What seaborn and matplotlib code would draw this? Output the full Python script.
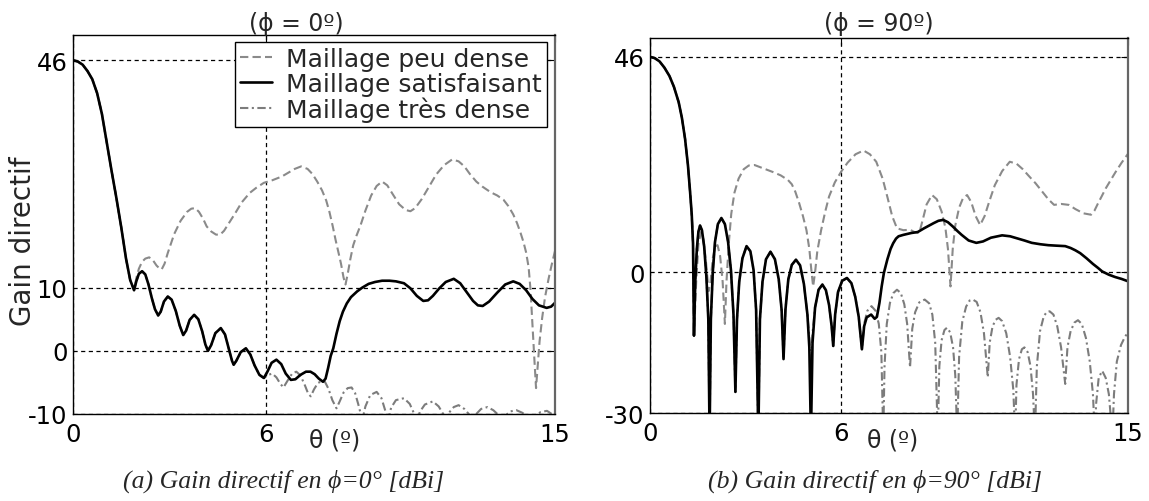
import matplotlib
matplotlib.use('Agg')
import matplotlib.pyplot as plt
import seaborn as sns

sns.set_style('white')
plt.rcParams['font.family'] = ['DejaVu Sans']
plt.rcParams['axes.unicode_minus'] = False
plt.rcParams['lines.scale_dashes'] = False

# ---------------- data ----------------
# main lobe, left panel (the three meshes coincide here)
lobe_x = [0, 0.15, 0.3, 0.45, 0.6, 0.75, 0.9, 1.05, 1.2, 1.35, 1.5, 1.65, 1.78, 1.9]
lobe_y = [46, 45.8, 45.3, 44.3, 43.0, 40.8, 37.5, 33.0, 28.5, 24.2, 19.6, 14.6, 11.2, 9.6]

# side lobes shared by "satisfaisant" and "très dense" up to theta ~ 6
a_side_x = [1.97, 2.05, 2.15, 2.25, 2.35, 2.45, 2.55, 2.65, 2.73, 2.83, 2.95, 3.07, 3.2, 3.32,
            3.43, 3.52, 3.63, 3.77, 3.9, 4.02, 4.12, 4.2, 4.3, 4.43, 4.6, 4.73, 4.85, 4.95,
            5.0, 5.08, 5.22, 5.38, 5.52, 5.65, 5.8, 5.94]
a_side_y = [11.0, 12.2, 12.6, 12.1, 10.5, 8.4, 6.6, 5.6, 6.2, 7.8, 8.6, 8.1, 6.3, 4.0,
            2.5, 3.2, 4.9, 5.7, 5.0, 3.1, 1.0, 0.0, 0.9, 2.8, 3.6, 2.6, 0.3, -1.6,
            -2.2, -1.6, -0.2, 0.4, -0.6, -2.3, -3.8, -4.3]

# (a) phi = 0
a_peu_x = lobe_x + [1.97, 2.05, 2.15, 2.25, 2.37, 2.48, 2.6, 2.7, 2.76, 2.85, 2.95, 3.05, 3.15, 3.35,
                    3.55, 3.68, 3.8, 3.92, 4.05, 4.16, 4.3, 4.45, 4.58, 4.7, 4.85, 5.05, 5.25, 5.5,
                    5.7, 5.94, 6.2, 6.5, 6.7, 6.9, 7.1, 7.3, 7.45, 7.6, 7.75, 7.88, 7.98, 8.08,
                    8.17, 8.26, 8.34, 8.42, 8.48, 8.55, 8.63, 8.72, 8.82, 8.95, 9.1, 9.28, 9.45,
                    9.62, 9.78, 9.95, 10.15, 10.35, 10.5, 10.65, 10.85, 11.07, 11.3, 11.55, 11.8,
                    12.0, 12.18, 12.35, 12.55, 12.74, 13.0, 13.2, 13.4, 13.55, 13.7, 13.82, 13.92,
                    14.02, 14.1, 14.18, 14.24, 14.3, 14.36, 14.41, 14.46, 14.52, 14.6, 14.69, 14.8,
                    14.9, 15.0]
a_peu_y = lobe_y + [11.5, 13.0, 14.1, 14.6, 14.8, 14.4, 13.5, 13.0, 12.9, 13.8, 15.5, 17.0, 18.5, 20.6,
                    22.0, 22.5, 22.6, 22.0, 20.9, 19.7, 18.9, 18.4, 18.4, 19.0, 20.2, 21.8, 23.5, 25.0,
                    25.8, 26.6, 27.0, 27.6, 28.2, 28.8, 29.2, 28.8, 28.0, 26.8, 25.4, 23.8, 22.0, 19.8,
                    17.6, 15.6, 13.8, 11.6, 10.5, 12.2, 14.5, 16.7, 18.2, 19.9, 22.2, 24.6, 26.1,
                    26.8, 26.2, 24.8, 23.2, 22.3, 22.1, 22.6, 24.0, 25.9, 27.9, 29.4, 30.3,
                    30.0, 29.2, 28.0, 26.8, 26.0, 25.1, 24.6, 23.9, 22.9, 21.6, 20.2, 18.8,
                    17.2, 15.6, 13.2, 9.5, 4.0, -1.5, -5.9, -2.5, 1.5, 5.2, 8.5, 11.4,
                    13.7, 15.8]

a_sat_x = lobe_x + a_side_x + [6.05, 6.18, 6.33, 6.48, 6.62, 6.78, 6.92, 7.08, 7.25, 7.39, 7.52, 7.65,
                               7.78, 7.86, 7.94, 8.02, 8.1, 8.2, 8.3, 8.4, 8.52, 8.65, 8.84, 9.0,
                               9.2, 9.4, 9.62, 9.85, 10.05, 10.3, 10.5, 10.7, 10.9, 11.05, 11.2,
                               11.4, 11.6, 11.85, 12.05, 12.25, 12.45, 12.6, 12.75, 12.95, 13.2,
                               13.45, 13.7, 13.9, 14.1, 14.3, 14.5, 14.74, 14.88, 15.0]
a_sat_y = lobe_y + a_side_y + [-3.3, -1.9, -1.4, -2.1, -3.6, -4.6, -4.5, -3.8, -3.3, -3.3, -3.7, -4.4,
                               -4.9, -4.4, -2.7, -0.8, 0.4, 2.7, 4.7, 6.2, 7.5, 8.5, 9.4, 10.0,
                               10.6, 10.9, 11.1, 11.1, 11.0, 10.7, 9.9, 8.7, 7.9, 8.0, 8.7,
                               9.9, 10.9, 11.4, 10.7, 9.3, 7.9, 7.2, 7.1, 7.8, 9.2,
                               10.5, 11.0, 10.6, 9.6, 8.2, 7.2, 6.8, 7.0, 7.6]

a_tres_x = lobe_x + a_side_x + [6.08, 6.2, 6.33, 6.45, 6.55, 6.68, 6.82, 6.95, 7.08, 7.22, 7.32, 7.4,
                                7.5, 7.62, 7.74, 7.84, 7.95, 8.07, 8.2, 8.3, 8.42, 8.55, 8.67, 8.78,
                                8.88, 8.95, 9.0, 9.1, 9.25, 9.45, 9.6, 9.72, 9.8, 9.9, 10.05, 10.3,
                                10.48, 10.62, 10.7, 10.8, 10.95, 11.2, 11.38, 11.52, 11.6, 11.7,
                                11.85, 12.0, 12.18, 12.35, 12.45, 12.55, 12.7, 12.9, 13.08, 13.25,
                                13.35, 13.45, 13.6, 13.8, 13.98, 14.15, 14.25, 14.35, 14.55, 14.75,
                                14.9, 15.0]
a_tres_y = lobe_y + a_side_y + [-3.8, -3.6, -4.2, -5.2, -5.8, -4.7, -3.6, -3.3, -3.9, -5.5, -6.8, -7.2,
                                -6.1, -5.1, -4.8, -4.9, -6.0, -7.8, -9.1, -8.0, -6.6, -5.9, -5.8, -6.7,
                                -8.5, -9.9, -11.0, -8.8, -7.0, -6.5, -7.5, -9.5, -11.0, -9.0, -7.8, -7.5,
                                -8.4, -10.0, -11.0, -9.6, -8.5, -8.0, -8.8, -10.0, -11.0, -9.8,
                                -8.9, -8.6, -9.2, -10.2, -11.0, -10.0, -9.2, -8.9, -9.4, -10.2,
                                -11.0, -10.3, -9.6, -9.4, -9.8, -10.4, -11.0, -10.4, -9.7, -9.5,
                                -10.0, -10.5]

# (b) phi = 90
b_lobe_x = [0, 0.15, 0.3, 0.45, 0.61, 0.75, 0.9, 1.0, 1.1, 1.19, 1.26, 1.31, 1.35, 1.38]
b_lobe_y = [46, 45.7, 45.0, 43.7, 41.9, 39.6, 36.3, 33.0, 28.5, 22.9, 17.0, 12.3, 6.2, -13.5]

# side lobes shared by "satisfaisant" and "très dense" up to theta ~ 5
b_side_x = [1.42, 1.47, 1.52, 1.57, 1.63, 1.7, 1.77, 1.83, 1.87, 1.91, 1.97, 2.04, 2.13, 2.24,
            2.35, 2.45, 2.54, 2.62, 2.68, 2.73, 2.8, 2.9, 3.03, 3.15, 3.25, 3.33, 3.4, 3.45,
            3.53, 3.64, 3.78, 3.92, 4.04, 4.13, 4.19, 4.25, 4.34, 4.45, 4.58, 4.71, 4.83, 4.94]
b_side_y = [-2.0, 5.0, 8.7, 10.0, 9.0, 5.5, -1.0, -10.0, -35.0, -10.0, 0.0, 6.5, 10.3, 11.6,
            10.3, 6.5, 0.5, -9.0, -25.5, -10.0, -2.0, 3.0, 5.6, 4.5, 0.5, -8.0, -35.0, -10.0,
            -2.0, 2.8, 4.4, 2.8, -1.5, -8.0, -18.5, -8.0, -1.5, 1.6, 2.7, 1.5, -2.5, -9.0]
# lobes from theta ~ 5.2 to 6.65, again shared
b_side2_x = [5.18, 5.29, 5.41, 5.52, 5.62, 5.7, 5.75, 5.81, 5.9, 6.03, 6.18, 6.32, 6.44, 6.55, 6.65]
b_side2_y = [-7.5, -3.7, -2.6, -3.8, -7.0, -11.5, -15.7, -9.0, -4.2, -1.8, -1.2, -2.3, -5.2, -9.5, -16.4]

b_peu_x = b_lobe_x + [1.45, 1.52, 1.6, 1.68, 1.76, 1.84, 1.9, 1.97, 2.05, 2.12, 2.2, 2.28, 2.35, 2.4,
                      2.47, 2.55, 2.65, 2.78, 2.94, 3.1, 3.28, 3.55, 3.86, 4.1, 4.33, 4.45, 4.56,
                      4.68, 4.8, 4.91, 5.0, 5.07, 5.12, 5.18, 5.25, 5.37, 5.5, 5.62, 5.8, 6.0, 6.2,
                      6.45, 6.7, 6.9, 7.1, 7.3, 7.46, 7.6, 7.75, 7.95, 8.16, 8.3, 8.45, 8.55, 8.68,
                      8.85, 9.0, 9.15, 9.27, 9.35, 9.43, 9.5, 9.58, 9.7, 9.82, 9.95, 10.08, 10.22,
                      10.36, 10.5, 10.65, 10.82, 11.05, 11.29, 11.5, 11.7, 11.87, 12.1, 12.3, 12.5,
                      12.68, 12.9, 13.14, 13.35, 13.6, 13.84, 13.95, 14.05, 14.18, 14.3, 14.45,
                      14.6, 14.8, 15.0]
b_peu_y = b_lobe_y + [-2.0, 6.0, 8.6, 7.0, 2.0, -4.0, -2.0, 3.0, 5.6, 5.8, 3.5, -2.0, -11.0, -2.0,
                      6.0, 12.5, 17.0, 20.0, 22.0, 22.8, 22.9, 22.2, 21.4, 20.7, 19.7, 18.8, 17.2,
                      14.8, 12.0, 9.0, 5.0, 0.0, -3.0, 0.0, 4.5, 9.0, 13.0, 16.2, 19.2, 21.5, 23.4,
                      25.2, 26.0, 25.2, 23.6, 20.0, 15.8, 12.0, 9.4, 9.0, 9.1, 8.6, 8.4, 11.0, 14.5,
                      16.5, 15.6, 13.0, 9.5, 5.0, -3.0, 5.0, 10.0, 13.8, 15.8, 16.5, 15.0, 12.0,
                      10.1, 12.0, 15.2, 18.6, 21.6, 23.6, 23.2, 22.0, 20.7, 19.0, 17.3, 15.6,
                      14.4, 14.6, 14.4, 13.5, 12.6, 12.3, 13.2, 14.6, 16.3, 17.9, 19.6,
                      21.3, 23.4, 25.3]

b_sat_x = b_lobe_x + b_side_x + [5.0, 5.05, 5.1] + b_side2_x + [
    6.72, 6.8, 6.94, 7.05, 7.12, 7.2, 7.27, 7.34, 7.45, 7.55, 7.63, 7.72, 7.8, 7.95, 8.2, 8.4,
    8.6, 8.9, 9.05, 9.2, 9.35, 9.5, 9.65, 9.78, 10.0, 10.24, 10.45, 10.7, 11.05, 11.3, 11.5,
    11.75, 11.98, 12.25, 12.5, 12.75, 13.03, 13.2, 13.35, 13.5, 13.7, 13.9, 14.05, 14.19, 14.4,
    14.6, 14.8, 15.0]
b_sat_y = b_lobe_y + b_side_y + [-16.0, -35.0, -15.0] + b_side2_y + [
    -11.5, -9.6, -9.0, -9.9, -9.5, -6.5, -3.0, -0.1, 2.8, 5.0, 6.2, 7.2, 7.7, 8.0, 8.4, 8.6,
    9.4, 10.5, 11.0, 11.2, 10.7, 9.8, 8.8, 8.0, 6.8, 6.3, 6.6, 7.4, 7.9, 7.7, 7.3,
    6.8, 6.3, 6.0, 5.8, 5.7, 5.6, 5.2, 4.7, 4.1, 3.0, 1.8, 1.0, 0.2, -0.5,
    -1.0, -1.4, -1.9]

b_tres_x = b_lobe_x + b_side_x + [5.0, 5.05, 5.1] + b_side2_x + [
    6.72, 6.82, 6.95, 7.08, 7.18, 7.26, 7.32, 7.36, 7.43, 7.53, 7.64, 7.75, 7.87, 7.98, 8.07,
    8.16, 8.23, 8.32, 8.45, 8.62, 8.76, 8.86, 8.95, 9.03, 9.08, 9.15, 9.24, 9.32, 9.42, 9.51,
    9.58, 9.64, 9.7, 9.8, 9.92, 10.03, 10.13, 10.25, 10.37, 10.48, 10.6, 10.66, 10.75, 10.85,
    10.94, 11.05, 11.18, 11.3, 11.4, 11.46, 11.5, 11.58, 11.67, 11.75, 11.85, 11.94, 12.02,
    12.08, 12.14, 12.24, 12.36, 12.46, 12.54, 12.66, 12.78, 12.9, 13.03, 13.1, 13.2, 13.32,
    13.43, 13.55, 13.68, 13.8, 13.9, 13.96, 14.0, 14.08, 14.19, 14.3, 14.4, 14.51, 14.56,
    14.65, 14.78, 14.9, 15.0]
b_tres_y = b_lobe_y + b_side_y + [-14.0, -20.0, -13.0] + b_side2_y + [
    -11.0, -8.2, -7.2, -8.2, -11.0, -17.0, -35.0, -20.0, -11.0, -6.5, -4.4, -3.7, -4.4, -6.8, -11.0,
    -20.3, -12.0, -8.5, -6.4, -5.8, -6.6, -9.0, -15.0, -35.0, -20.0, -14.5, -12.3, -11.8, -12.8, -16.0,
    -22.0, -35.0, -18.0, -10.5, -7.3, -6.0, -5.8, -6.3, -8.5, -13.0, -22.4, -15.0, -11.5, -10.1,
    -9.7, -10.4, -13.0, -18.0, -25.0, -35.0, -24.0, -18.5, -16.4, -16.0, -17.0, -20.0, -26.0,
    -35.0, -20.0, -12.5, -9.3, -8.4, -8.3, -9.0, -11.5, -16.0, -23.8, -16.0, -12.5, -10.7,
    -10.2, -11.0, -14.0, -19.0, -26.0, -35.0, -28.0, -22.5, -21.0, -22.5, -26.0, -35.0, -26.0,
    -19.0, -15.5, -13.8, -12.8]

labels = ['Maillage peu dense', 'Maillage satisfaisant', 'Maillage très dense']
grey_dash = '#8a8a8a'
grey_dot = '#7c7c7c'
dash_style = (0, (6, 3))
dashdot_style = (0, (6, 2.5, 1.5, 2.5))

fig = plt.figure(figsize=(11.49, 5.02), dpi=100)
ax_a = fig.add_axes([73 / 1149, 1 - 415 / 502, 482 / 1149, 379 / 502])
ax_b = fig.add_axes([650 / 1149, 1 - 414 / 502, 478 / 1149, 375 / 502])


def draw(ax, x, y, **kw):
    sns.lineplot(x=x, y=y, ax=ax, sort=False, estimator=None, **kw)
    line = ax.lines[-1]
    line.set_solid_joinstyle('round')
    line.set_dash_joinstyle('round')
    return line


panels = [
    (ax_a, a_peu_x, a_peu_y, a_sat_x, a_sat_y, a_tres_x, a_tres_y, (-10, 50), [-10, 0, 10, 46]),
    (ax_b, b_peu_x, b_peu_y, b_sat_x, b_sat_y, b_tres_x, b_tres_y, (-30, 50), [-30, 0, 46]),
]

for ax, px, py, sx, sy, tx, ty, ylim, yt in panels:
    l1 = draw(ax, px, py, color=grey_dash, lw=1.5, linestyle=dash_style)
    l3 = draw(ax, tx, ty, color=grey_dot, lw=1.5, linestyle=dashdot_style)
    l2 = draw(ax, sx, sy, color='black', lw=1.9)
    ax.set_xlim(0, 15)
    ax.set_ylim(*ylim)
    ax.set_xticks([0, 6, 15])
    ax.set_yticks(yt)
    ax.set_xlabel('')
    ax.set_ylabel('')
    ax.tick_params(direction='in', length=5, top=True, right=True, labelsize=17.5,
                   color='black', labelcolor='black')
    ax.tick_params(axis='x', pad=6)
    ax.tick_params(axis='y', pad=4)
    ax.grid(True, color='black', lw=0.9, linestyle=(0, (3, 2.5)))
    ax.set_axisbelow(True)
    for s in ax.spines.values():
        s.set_color('black')
        s.set_linewidth(1.0)
    ax.spines['right'].set_color('0.4')
    ax.spines['right'].set_linewidth(1.6)
    if ax.get_legend() is not None:
        ax.get_legend().remove()
    if ax is ax_a:
        leg = ax.legend([l1, l2, l3], labels, loc='upper right',
                        bbox_to_anchor=(0.9834, 0.9815), borderaxespad=0,
                        fancybox=False, edgecolor='black', framealpha=1, fontsize=18,
                        handlelength=1.3, handletextpad=0.55, labelspacing=0.02,
                        borderpad=0.2)
        leg.get_frame().set_linewidth(1.0)

fig.text(296 / 1149, 1 - 24 / 502, '(ϕ = 0º)', ha='center', va='center', fontsize=17)
fig.text(879 / 1149, 1 - 24 / 502, '(ϕ = 90º)', ha='center', va='center', fontsize=17)
fig.text(335 / 1149, 1 - 441 / 502, 'θ (º)', ha='center', va='center', fontsize=17)
fig.text(893 / 1149, 1 - 441 / 502, 'θ (º)', ha='center', va='center', fontsize=17)
fig.text(23 / 1149, 1 - 241 / 502, 'Gain directif', rotation=90, ha='center', va='center',
         fontsize=20)

cap = dict(family=['Liberation Serif', 'DejaVu Serif'], style='italic', fontsize=18.5,
           ha='center', va='center')
fig.text(284 / 1149, 1 - 481 / 502, '(a) Gain directif en ϕ=0° [dBi]', **cap)
fig.text(875 / 1149, 1 - 481 / 502, '(b) Gain directif en ϕ=90° [dBi]', **cap)

fig.savefig('out.png', dpi=100)
